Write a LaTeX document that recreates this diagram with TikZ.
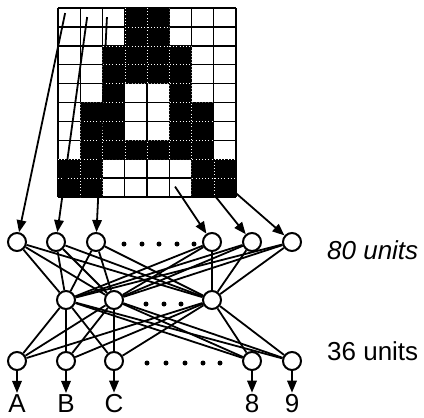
\documentclass[tikz,border=0pt]{standalone}
\usepackage{fontspec}
\setmainfont{Liberation Sans}
\usetikzlibrary{arrows.meta}
\begin{document}
\begin{tikzpicture}[x=1pt,y=-1pt,
  unit/.style={circle,draw,line width=2pt,minimum size=18pt,inner sep=0pt},
  link/.style={line width=1.8pt},
  arr/.style={line width=1.8pt,-{Triangle[length=12pt,width=9.5pt]}},
  lbl/.style={font=\fontsize{26}{26}\selectfont,inner sep=0pt},
  dotmark/.style={circle,fill,inner sep=0pt,minimum size=5pt},
  gridline/.style={line width=1.4pt},
  innerline/.style={white,line width=0.5pt,dash pattern=on 0.6pt off 2.6pt}]
\useasboundingbox (0,0) rectangle (424,418);

% ---- 8 x 10 pixel grid showing the letter A ----
\begin{scope}[shift={(58,8)},x=22.25pt,y=-18.9pt]
  \def\blackcells{(3,0) rectangle (5,2) (2,2) rectangle (6,4)
    (2,4) rectangle (3,5) (5,4) rectangle (6,5)
    (1,5) rectangle (3,7) (5,5) rectangle (7,7)
    (1,7) rectangle (7,8)
    (0,8) rectangle (2,10) (6,8) rectangle (8,10)}
  \fill \blackcells;
  \foreach \c in {0,...,8} \draw[gridline] (\c,0) -- (\c,10);
  \foreach \r in {0,...,10} \draw[gridline] (0,\r) -- (8,\r);
  \begin{scope}
    \clip \blackcells;
    \foreach \c in {1,...,7} \draw[innerline] (\c,0) -- (\c,10);
    \foreach \r in {1,...,9} \draw[innerline] (0,\r) -- (8,\r);
  \end{scope}
  \coordinate (s1) at (0.32,0.27);
  \coordinate (s2) at (1.31,0.48);
  \coordinate (s3) at (2.2,0.48);
  \coordinate (s4) at (5.26,9.45);
  \coordinate (s5) at (7.06,9.95);
  \coordinate (s6) at (8,9.8);
\end{scope}

% ---- input layer ----
\node[unit] (i1) at (17,242) {};
\node[unit] (i2) at (56,242) {};
\node[unit] (i3) at (96,242) {};
\node[unit] (i4) at (212,242) {};
\node[unit] (i5) at (252,242) {};
\node[unit] (i6) at (292,242) {};
\foreach \x in {124,142,159,177,194} \node[dotmark] at (\x,244) {};

% ---- hidden layer ----
\node[unit] (h1) at (66,300) {};
\node[unit] (h2) at (114,300) {};
\node[unit] (h3) at (212,300) {};
\foreach \x in {146,164,181} \node[dotmark] at (\x,304) {};

% ---- output layer ----
\node[unit] (o1) at (17,361) {};
\node[unit] (o2) at (66,361) {};
\node[unit] (o3) at (114,361) {};
\node[unit] (o4) at (252,361) {};
\node[unit] (o5) at (292,361) {};
\foreach \x in {147,166,185,203,220} \node[dotmark] at (\x,363) {};

% ---- full connections ----
\foreach \a in {i1,i2,i3,i4,i5,i6}
  \foreach \b in {h1,h2,h3} \draw[link] (\a) -- (\b);
\foreach \a in {h1,h2,h3}
  \foreach \b in {o1,o2,o3,o4,o5} \draw[link] (\a) -- (\b);

% ---- pixels feeding input units ----
\draw[arr] (s1) -- (i1);
\draw[arr] (s2) -- (i2);
\draw[arr] (s3) -- (i3);
\draw[arr] (s4) -- (i4);
\draw[arr] (s5) -- (i5);
\draw[arr] (s6) -- (i6);

% ---- output labels ----
\node[lbl,anchor=base] (lA) at (17,412.5) {A};
\node[lbl,anchor=base] (lB) at (66,412.5) {B};
\node[lbl,anchor=base] (lC) at (114,412.5) {C};
\node[lbl,anchor=base] (l8) at (252,412.5) {8};
\node[lbl,anchor=base] (l9) at (292,412.5) {9};
\foreach \o/\l in {o1/lA,o2/lB,o3/lC,o4/l8,o5/l9}
  \draw[arr,shorten >=1.5pt] (\o) -- (\l.north);

% ---- layer sizes ----
\node[lbl,anchor=base west] (n80) at (327,259) {\textit{80 units}};
\node[lbl,anchor=base west] (n36) at (327,360) {36 units};
\end{tikzpicture}
\end{document}
